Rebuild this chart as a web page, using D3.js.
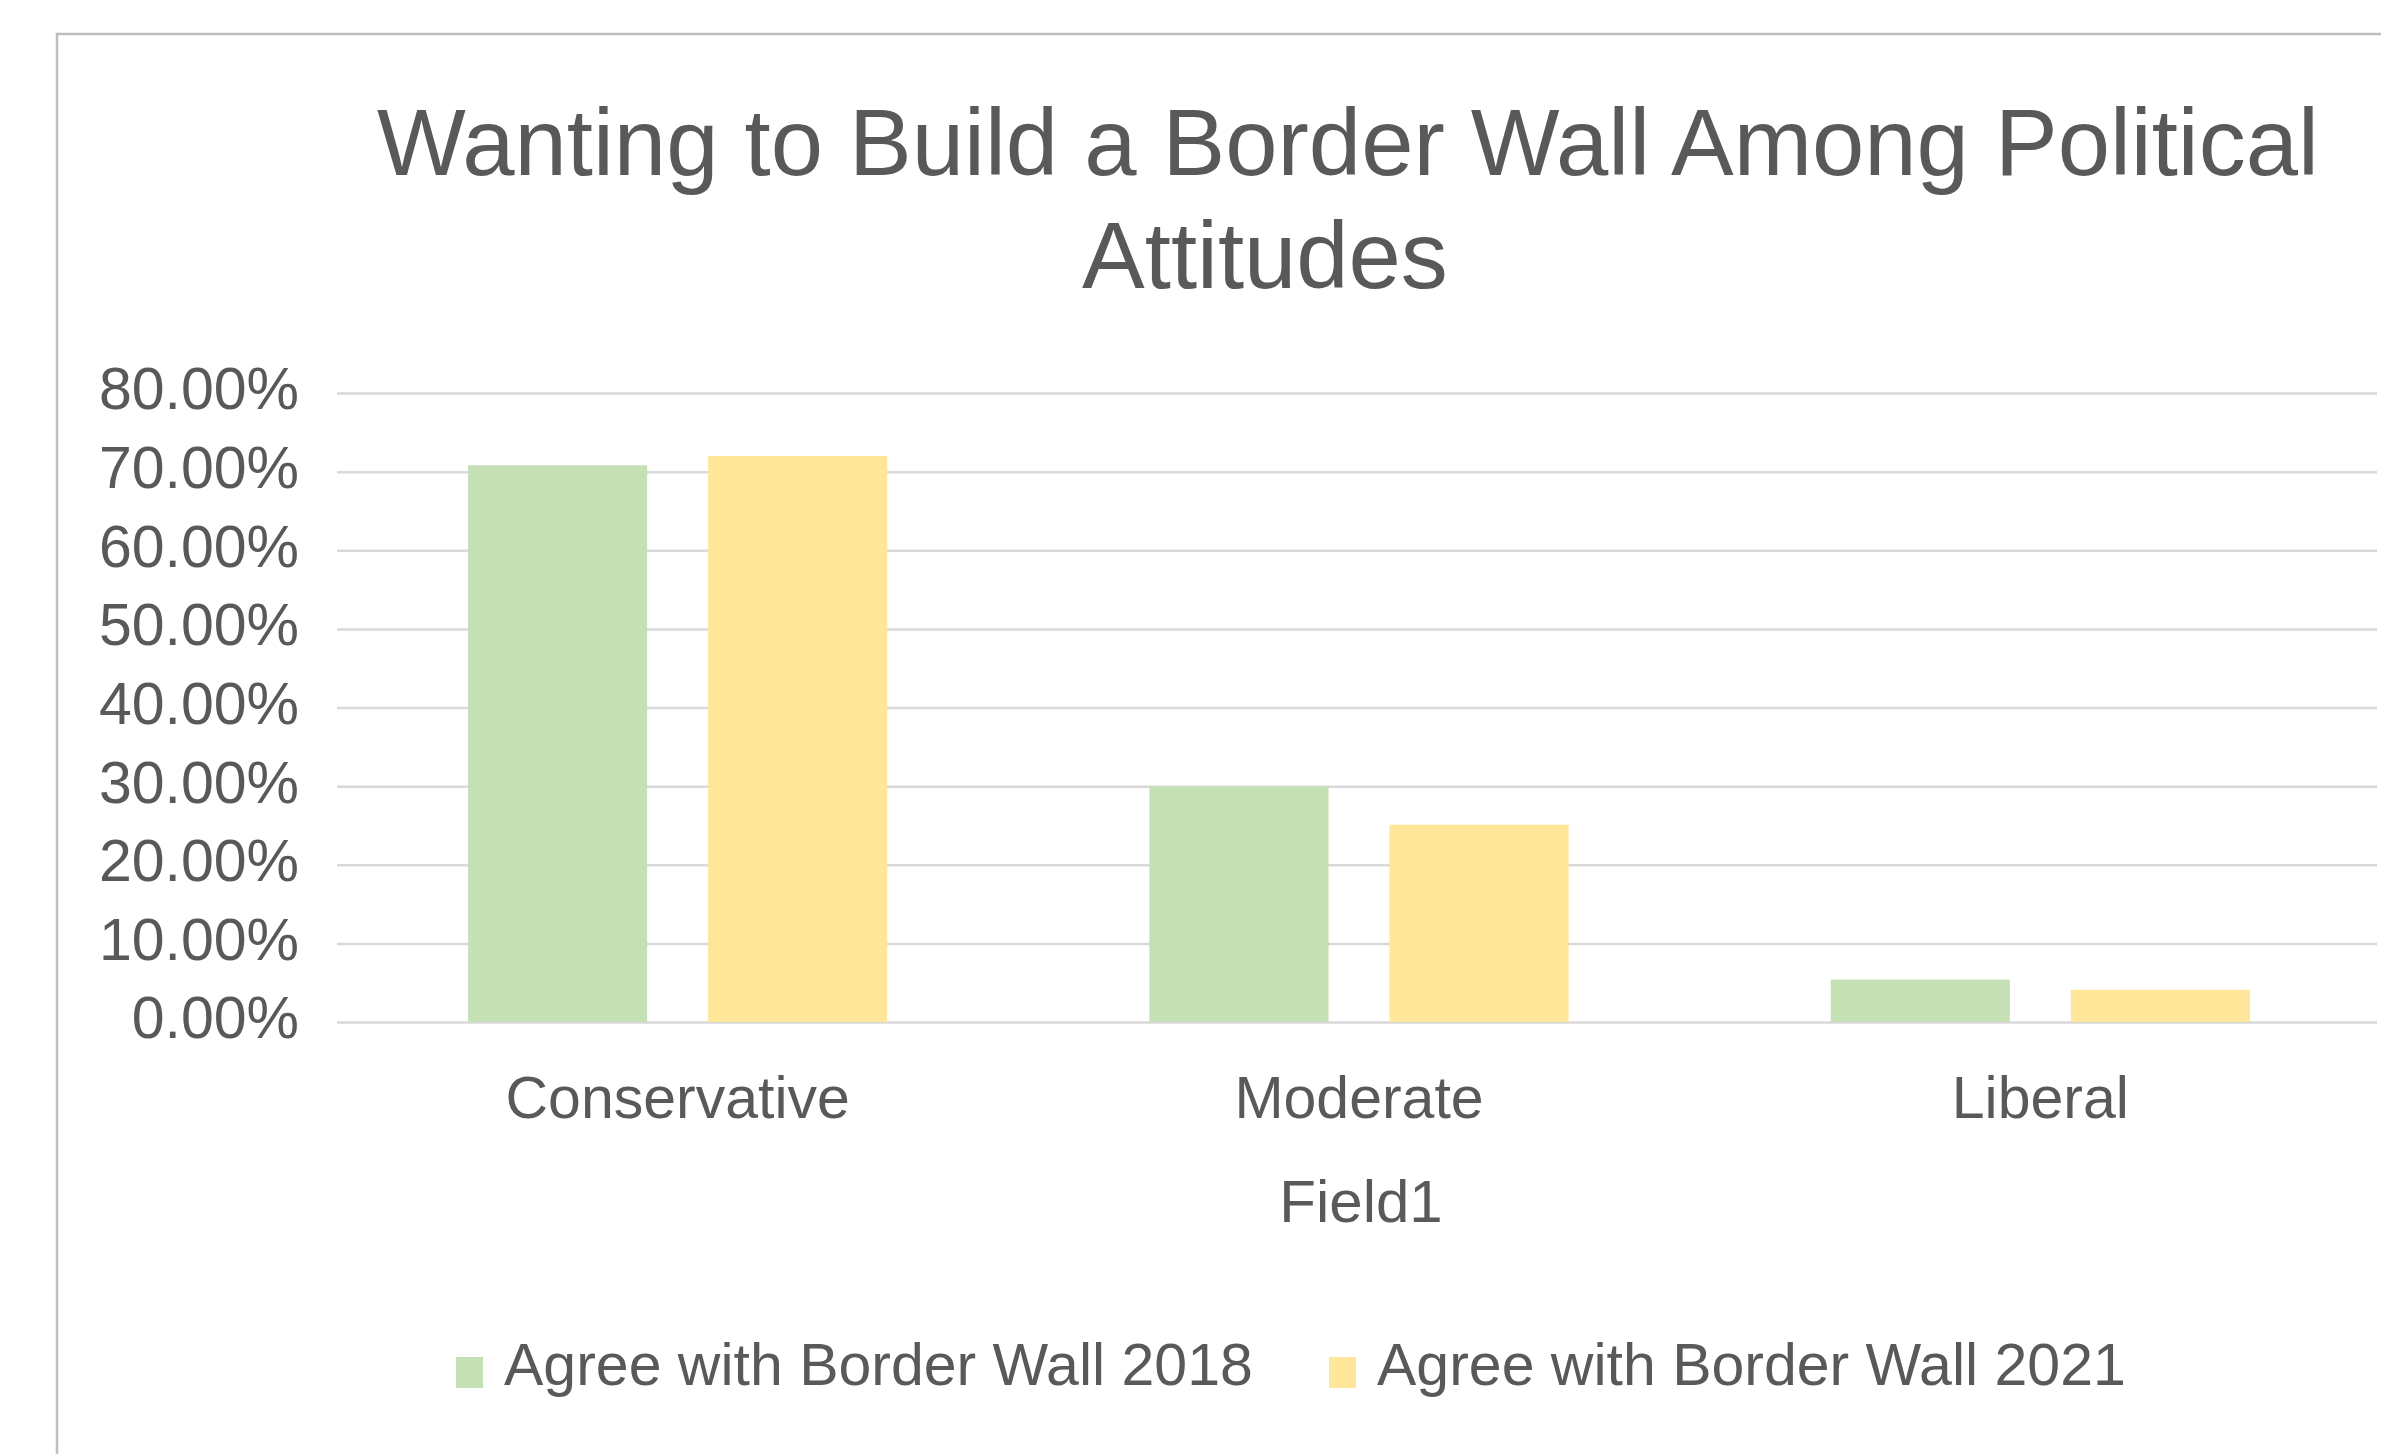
<!DOCTYPE html>
<html>
<head>
<meta charset="utf-8">
<script src="https://cdn.jsdelivr.net/npm/d3@7"></script>
<style>
  body { margin: 0; background: #fff; }
  svg { display: block; font-family: "Liberation Sans", Arial, sans-serif; }
</style>
</head>
<body>
<div id="chart"></div>
<script>
// chart data
const categories = ["Conservative", "Moderate", "Liberal"];
const seriesNames = ["Agree with Border Wall 2018", "Agree with Border Wall 2021"];
const values2018 = [0.708, 0.300, 0.054];
const values2021 = [0.720, 0.251, 0.041];
const yTicks = [0, 0.1, 0.2, 0.3, 0.4, 0.5, 0.6, 0.7, 0.8];
const titleLines = ["Wanting to Build a Border Wall Among Political", "Attitudes"];
const xTitle = "Field1";

const colors = ["#C5E0B4", "#FFE699"];
const textColor = "#595959";

function barChart() {
  const width = 2381;
  const height = 1454;
  const plot = { left: 337, right: 2381, top: 393, bottom: 1022 };

  const svg = d3.select("#chart").append("svg")
    .attr("width", width)
    .attr("height", height);

  // chart area border (only top and left visible in the crop)
  svg.append("path")
    .attr("d", `M57,${height} L57,34 L${width},34`)
    .attr("fill", "none")
    .attr("stroke", "#BFBFBF")
    .attr("stroke-width", 2.5);

  // title, two wrapped lines
  const titleX = [1348, 1265];
  svg.selectAll(".title")
    .data(titleLines)
    .join("text")
    .attr("class", "title")
    .attr("x", (d, i) => titleX[i])
    .attr("y", (d, i) => 175 + i * 113)
    .attr("text-anchor", "middle")
    .attr("fill", textColor)
    .style("font-size", "94px")
    .text(d => d);

  const x0 = d3.scaleBand()
    .domain(categories)
    .range([plot.left, plot.right]);

  const x1 = d3.scaleBand()
    .domain(seriesNames)
    .range([0, x0.bandwidth()])
    .paddingInner(0.254)
    .paddingOuter(0.546);

  const y = d3.scaleLinear()
    .domain([0, 0.8])
    .range([plot.bottom, plot.top]);

  // Y axis with gridlines
  const yAxis = svg.append("g")
    .attr("transform", `translate(${plot.left},0)`)
    .call(d3.axisLeft(y)
      .tickValues(yTicks)
      .tickFormat(d3.format(".2%"))
      .tickSize(-(2377 - plot.left))
      .tickPadding(38));
  yAxis.select(".domain").remove();
  yAxis.selectAll(".tick line")
    .attr("stroke", "#D9D9D9")
    .attr("stroke-width", 2.5);
  yAxis.selectAll(".tick text")
    .attr("fill", textColor)
    .attr("dy", "0.27em")
    .style("font-size", "59px");

  // bars
  const rows = categories.map((c, i) => ({ cat: c, vals: [values2018[i], values2021[i]] }));
  const groups = svg.selectAll(".group")
    .data(rows)
    .join("g")
    .attr("class", "group")
    .attr("transform", d => `translate(${x0(d.cat)},0)`);

  groups.selectAll("rect")
    .data(d => d.vals.map((v, j) => ({ name: seriesNames[j], value: v, j })))
    .join("rect")
    .attr("x", d => x1(d.name))
    .attr("y", d => y(d.value))
    .attr("width", x1.bandwidth())
    .attr("height", d => y(0) - y(d.value))
    .attr("fill", d => colors[d.j]);

  // X axis labels
  const xAxis = svg.append("g")
    .attr("transform", `translate(0,${plot.bottom})`)
    .call(d3.axisBottom(x0).tickSize(0).tickPadding(54));
  xAxis.select(".domain").remove();
  xAxis.selectAll(".tick text")
    .attr("fill", textColor)
    .style("font-size", "59px");

  // X title
  svg.append("text")
    .attr("x", 1361)
    .attr("y", 1222)
    .attr("text-anchor", "middle")
    .attr("fill", textColor)
    .style("font-size", "60px")
    .text(xTitle);

  // legend
  const legendX = [456, 1329];
  const legend = svg.selectAll(".legend")
    .data(seriesNames)
    .join("g")
    .attr("class", "legend")
    .attr("transform", (d, i) => `translate(${legendX[i]},0)`);

  legend.append("rect")
    .attr("x", 0)
    .attr("y", 1357)
    .attr("width", 27)
    .attr("height", 31)
    .attr("fill", (d, i) => colors[i]);

  legend.append("text")
    .attr("x", 48)
    .attr("y", 1385)
    .attr("fill", textColor)
    .style("font-size", "59px")
    .text(d => d);
}

barChart();
</script>
</body>
</html>
